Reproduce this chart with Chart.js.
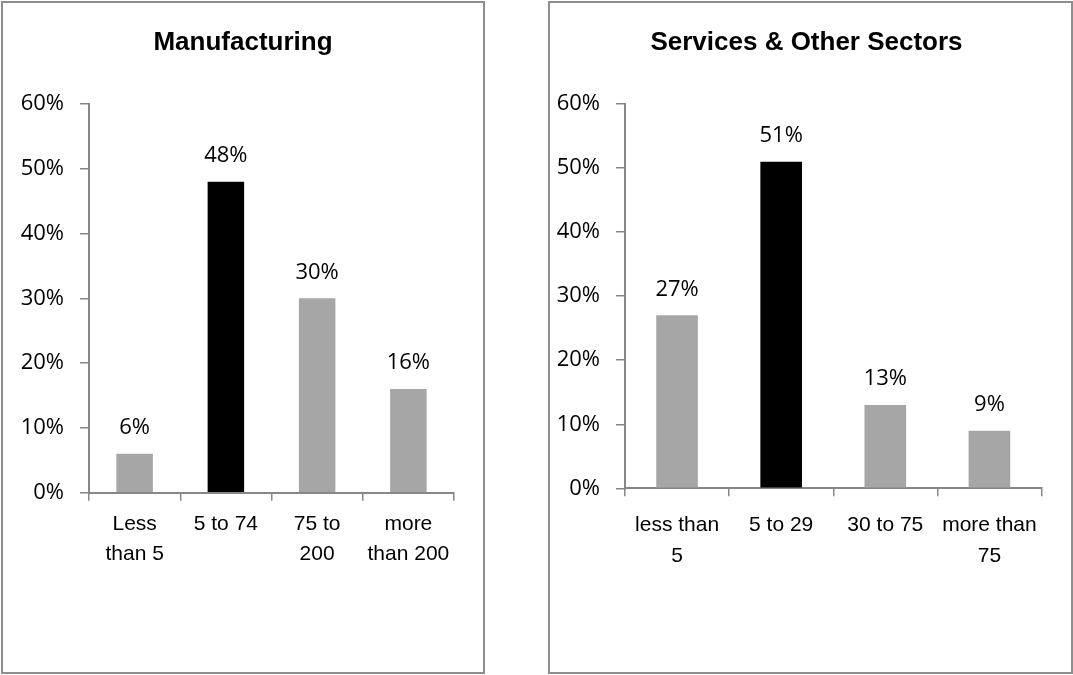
<!DOCTYPE html>
<html>
<head>
<meta charset="utf-8">
<script src="https://cdn.jsdelivr.net/npm/chart.js@4"></script>
<style>
    body { margin: 0; background: #fff; width: 1073px; height: 675px; position: relative; overflow: hidden; }
    .panel { position: absolute; box-sizing: border-box; border: 2px solid #8e8e8e; }
    .chart-box { position: absolute; top: 0; }
</style>
</head>
<body>
<div class="panel" style="left:1px; top:1px; width:484px; height:673px;"></div>
<div class="panel" style="left:548px; top:1px; width:525px; height:673px;"></div>
<div class="chart-box" style="left:0px;"><canvas id="mfg-chart" width="486" height="675"></canvas></div>
<div class="chart-box" style="left:540px;"><canvas id="svc-chart" width="533" height="675"></canvas></div>

<script>
// 製造業：従業員規模別の割合(%)
const mfgLabels = [['Less', 'than 5'], '5 to 74', ['75 to', '200'], ['more', 'than 200']];
const mfgShares = [6, 48, 30, 16];

// サービス業・その他：従業員規模別の割合(%)
const svcLabels = [['less than', '5'], '5 to 29', '30 to 75', ['more than', '75']];
const svcShares = [27, 51, 13, 9];

// Y軸目盛り
const yMin = 0;
const yMax = 60;
const yStep = 10;

const GRAY = '#a6a6a6';
const BLACK = '#000000';
const AXIS = '#878787';

Chart.defaults.font.family = '"Open Sans", sans-serif';
Chart.defaults.color = '#000';

// バーの上に値ラベルを描く(datalabels プラグインの代わり)
const valueLabels = {
    id: 'valueLabels',
    afterDatasetsDraw(chart) {
        const ctx = chart.ctx;
        const meta = chart.getDatasetMeta(0);
        const values = chart.data.datasets[0].data;
        ctx.save();
        ctx.font = '22px "Open Sans", sans-serif';
        ctx.fillStyle = '#000';
        ctx.textAlign = 'center';
        ctx.textBaseline = 'middle';
        meta.data.forEach((bar, i) => {
            ctx.fillText(values[i] + '%', bar.x, bar.y - 26);
        });
        ctx.restore();
    }
};

// タイトルは右 padding に関係なくキャンバス全幅の中央に置く
const centerTitle = {
    id: 'centerTitle',
    afterLayout(chart) {
        const block = chart.titleBlock;
        if (!block) return;
        block.left = 0;
        block.right = chart.width;
        block.width = chart.width;
    }
};

/**
 * 1パネル分の棒グラフを作る
 * box: チャート領域を決める寸法 (yAxisWidth, xAxisHeight, rightPad, labelPad, lineHeight)
 */
function makeChart(canvasId, title, labels, values, box) {
    const ctx = document.getElementById(canvasId).getContext('2d');
    return new Chart(ctx, {
        type: 'bar',
        data: {
            labels,
            datasets: [{
                data: values,
                backgroundColor: values.map((v, i) => i === 1 ? BLACK : GRAY),
                barPercentage: 0.8,
                categoryPercentage: 0.5
            }]
        },
        options: {
            responsive: false,
            animation: false,
            layout: { padding: { left: 0, right: box.rightPad, top: 0, bottom: 0 } },
            plugins: {
                legend: { display: false },
                tooltip: { enabled: false },
                title: {
                    display: true,
                    text: title,
                    color: '#000',
                    font: { family: '"Liberation Sans", Arial, sans-serif', size: 26, weight: 'bold', lineHeight: 1.2 },
                    padding: { top: 27.4, bottom: 104 - 27.4 - 31.2 }
                }
            },
            scales: {
                x: {
                    grid: { drawOnChartArea: false, drawTicks: true, tickLength: 8, color: AXIS, lineWidth: 1.5, offset: true },
                    border: { color: AXIS, width: 2 },
                    ticks: {
                        color: '#000',
                        padding: box.labelPad,
                        maxRotation: 0,
                        autoSkip: false,
                        font: { family: '"Liberation Sans", Arial, sans-serif', size: 21, lineHeight: box.lineHeight + 'px' }
                    },
                    afterFit: scale => { scale.height = box.xAxisHeight; }
                },
                y: {
                    min: yMin,
                    max: yMax,
                    grid: { drawOnChartArea: false, drawTicks: true, tickLength: 9, color: AXIS, lineWidth: 1.5 },
                    border: { color: AXIS, width: 2 },
                    ticks: {
                        stepSize: yStep,
                        padding: 16,
                        color: '#000',
                        font: { size: 22 },
                        callback: v => v + '%'
                    },
                    afterFit: scale => { scale.width = box.yAxisWidth; }
                }
            }
        },
        plugins: [valueLabels, centerTitle]
    });
}

document.addEventListener('DOMContentLoaded', () => {
    makeChart('mfg-chart', 'Manufacturing', mfgLabels, mfgShares,
        { yAxisWidth: 89, xAxisHeight: 675 - 492.7, rightPad: 486 - 454, labelPad: 9, lineHeight: 30 });
    makeChart('svc-chart', 'Services & Other Sectors', svcLabels, svcShares,
        { yAxisWidth: 85, xAxisHeight: 675 - 488.3, rightPad: 533 - 501.5, labelPad: 13, lineHeight: 31 });
});
</script>
</body>
</html>
